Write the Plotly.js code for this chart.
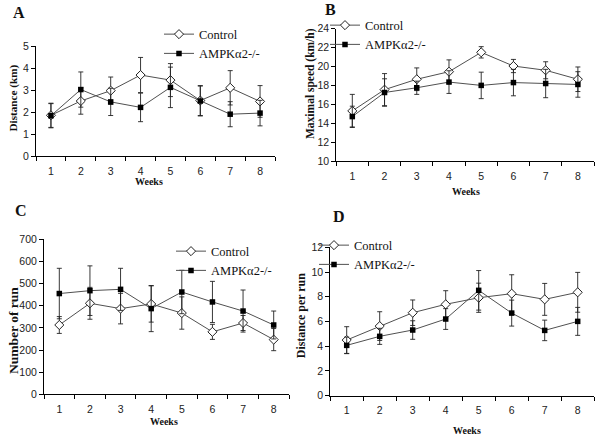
<!DOCTYPE html>
<html>
<head>
<meta charset="utf-8">
<script src="https://cdn.plot.ly/plotly-3.0.1.min.js"></script>
<style>html,body{margin:0;padding:0;background:#fff;}#chart{width:599px;height:440px;}</style>
</head>
<body>
<div id="chart"></div>
<script>
var weeks = [1, 2, 3, 4, 5, 6, 7, 8];
var weekLabels = ['1', '2', '3', '4', '5', '6', '7', '8'];
var seriesNames = ['Control', 'AMPK\u03b12-/-'];

// A: Distance (km)
var distCtrl = [1.85, 2.5, 2.97, 3.68, 3.45, 2.52, 3.1, 2.48];
var distCtrlErr = [0.55, 0.6, 0.62, 0.8, 0.75, 0.68, 0.78, 0.72];
var distKo = [1.83, 3.02, 2.46, 2.21, 3.12, 2.5, 1.9, 1.95];
var distKoErr = [0.55, 0.8, 0.62, 0.65, 0.92, 0.68, 0.57, 0.58];

// B: Maximal speed (km/h)
var speedCtrl = [15.3, 17.55, 18.65, 19.45, 21.5, 20.05, 19.6, 18.65];
var speedCtrlErr = [1.75, 1.7, 1.2, 1.25, 0.6, 0.7, 0.9, 1.3];
var speedKo = [14.7, 17.25, 17.75, 18.35, 18.0, 18.3, 18.2, 18.1];
var speedKoErr = [1.1, 1.45, 0.7, 1.2, 1.4, 1.4, 1.5, 1.35];

// C: Number of run
var runsCtrl = [313, 411, 387, 408, 367, 282, 322, 247];
var runsCtrlErr = [38, 72, 69, 82, 73, 34, 34, 50];
var runsKo = [455, 468, 474, 387, 462, 417, 376, 313];
var runsKoErr = [114, 112, 95, 104, 98, 93, 95, 63];

// D: Distance per run
var perRunCtrl = [4.5, 5.63, 6.71, 7.39, 7.92, 8.25, 7.79, 8.36];
var perRunCtrlErr = [1.08, 1.16, 1.03, 1.1, 1.18, 1.53, 1.29, 1.61];
var perRunKo = [4.07, 4.8, 5.31, 6.2, 8.52, 6.68, 5.28, 6.01];
var perRunKoErr = [0.67, 0.65, 0.75, 0.84, 1.6, 1.05, 0.83, 1.13];

var W = 599, H = 440;
var serif = 'Liberation Serif, Times New Roman, serif';
var sans = 'Liberation Sans, Arial, sans-serif';

function mk(y, err, isCtrl, ax, leg) {
  return {
    x: weeks, y: y, type: 'scatter', mode: 'lines+markers',
    name: isCtrl ? seriesNames[0] : seriesNames[1],
    xaxis: 'x' + ax, yaxis: 'y' + ax, legend: leg,
    line: {color: '#505050', width: 1},
    marker: isCtrl
      ? {symbol: 'diamond', size: 7, color: '#ffffff', line: {color: '#222', width: 1}}
      : {symbol: 'square', size: 5.5, color: '#000000', line: {color: '#000', width: 0}},
    error_y: {type: 'data', array: err, visible: true, color: '#222', thickness: 0.9, width: 2.5},
    cliponaxis: false
  };
}

var data = [
  mk(distCtrl, distCtrlErr, true, '', 'legend'),
  mk(distKo, distKoErr, false, '', 'legend'),
  mk(speedCtrl, speedCtrlErr, true, '2', 'legend2'),
  mk(speedKo, speedKoErr, false, '2', 'legend2'),
  mk(runsCtrl, runsCtrlErr, true, '3', 'legend3'),
  mk(runsKo, runsKoErr, false, '3', 'legend3'),
  mk(perRunCtrl, perRunCtrlErr, true, '4', 'legend4'),
  mk(perRunKo, perRunKoErr, false, '4', 'legend4')
];
data[0].xaxis = 'x'; data[0].yaxis = 'y';
data[1].xaxis = 'x'; data[1].yaxis = 'y';

function px(v) { return v / W; }
function py(v) { return 1 - v / H; }

function xax(x0, x1, anchor) {
  return {
    domain: [px(x0), px(x1)], range: [0.5, 8.5], anchor: anchor,
    showline: true, linecolor: '#000', linewidth: 1, showgrid: false, zeroline: false,
    tickmode: 'array', tickvals: weeks, ticktext: weekLabels, ticks: '',
    ticklabelstandoff: 5,
    tickfont: {family: sans, size: 10.5, color: '#222'},
    minor: {tickmode: 'array', tickvals: [0.5, 1.5, 2.5, 3.5, 4.5, 5.5, 6.5, 7.5, 8.5],
            ticks: 'outside', ticklen: 4, tickcolor: '#000', tickwidth: 1, showgrid: false},
    fixedrange: true
  };
}
function yax(yTop, yBot, r, dt, anchor) {
  return {
    domain: [py(yBot), py(yTop)], range: r, dtick: dt, anchor: anchor,
    showline: true, linecolor: '#000', linewidth: 1, showgrid: false, zeroline: false,
    ticks: 'outside', ticklen: 4, tickcolor: '#000', tickwidth: 1,
    tickfont: {family: sans, size: 10.5, color: '#222'},
    fixedrange: true
  };
}

function legendAt(textLeft, row1) {
  return {
    x: px(textLeft - 41), y: py(row1 - 16.5), xanchor: 'left', yanchor: 'top',
    xref: 'paper', yref: 'paper',
    bgcolor: 'rgba(0,0,0,0)', borderwidth: 0,
    font: {family: serif, size: 12.5, color: '#111'},
    tracegroupgap: 0, itemclick: false, itemdoubleclick: false
  };
}

function ann(text, x, y, size, bold, angle) {
  return {
    text: bold ? '<b>' + text + '</b>' : text, x: px(x), y: py(y), xref: 'paper', yref: 'paper',
    xanchor: 'center', yanchor: 'middle', showarrow: false, textangle: angle || 0,
    font: {family: serif, size: size, color: '#111'}
  };
}

var layout = {
  width: W, height: H, margin: {l: 0, r: 0, t: 0, b: 0},
  paper_bgcolor: '#fff', plot_bgcolor: 'rgba(0,0,0,0)',
  showlegend: true,
  xaxis: xax(36, 275, 'y'),
  yaxis: yax(46, 156, [0, 5], 1, 'x'),
  xaxis2: xax(336.2, 594, 'y2'),
  yaxis2: yax(28.7, 161, [10, 24], 2, 'x2'),
  xaxis3: xax(44, 289, 'y3'),
  yaxis3: yax(239.3, 394.3, [0, 700], 100, 'x3'),
  xaxis4: xax(330.2, 594.2, 'y4'),
  yaxis4: yax(247.3, 395.7, [0, 12], 2, 'x4'),
  legend: legendAt(200, 36),
  legend2: legendAt(366, 27),
  legend3: legendAt(212, 253),
  legend4: legendAt(355, 247),
  annotations: [
    ann('A', 19, 13, 16, true),
    ann('B', 330, 10, 16, true),
    ann('C', 21, 211, 16, true),
    ann('D', 339, 216, 16, true),
    ann('Distance (km)', 13, 98.5, 11.2, true, -90),
    ann('Maximal speed (km/h)', 310, 84, 11.5, true, -90),
    ann('Number of run', 13, 331, 13.5, true, -90),
    ann('Distance per run', 300.7, 315.5, 11.9, true, -90),
    ann('Weeks', 149, 181, 10, true),
    ann('Weeks', 466, 192, 10, true),
    ann('Weeks', 164, 421, 10, true),
    ann('Weeks', 467, 430, 10, true)
  ]
};

Plotly.newPlot('chart', data, layout, {displayModeBar: false, staticPlot: true});
</script>
</body>
</html>
